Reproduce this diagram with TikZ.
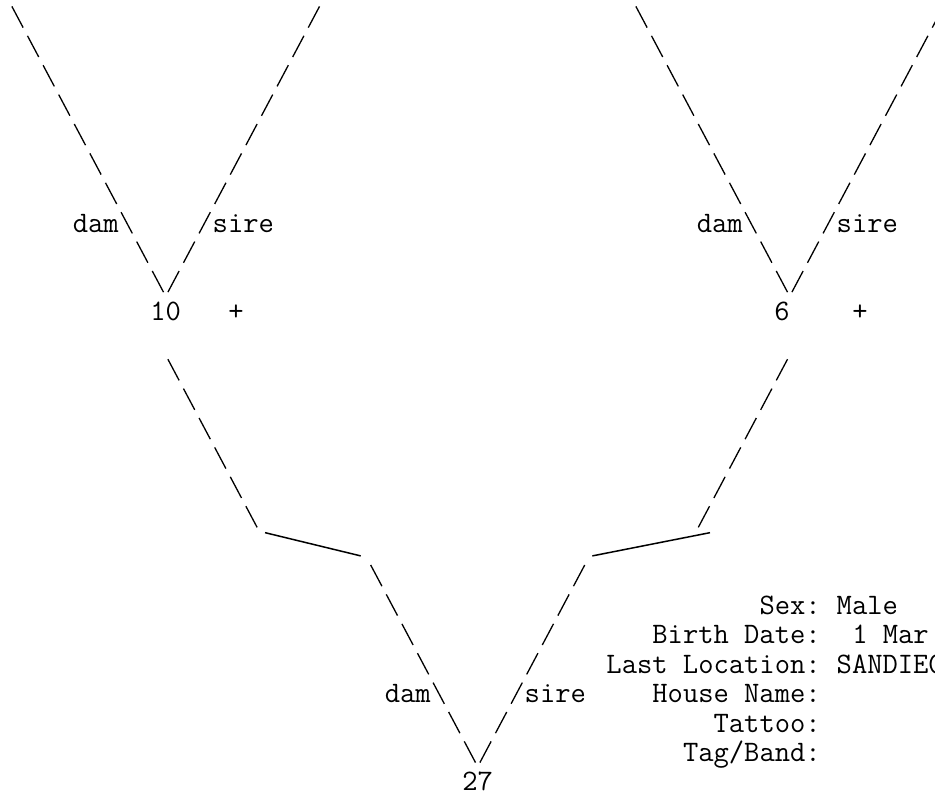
\documentclass[tikz,border=0pt]{standalone}
\usepackage{fontspec}

\begin{document}
\begin{tikzpicture}[x=15.6pt,y=-29.4pt,
  txt/.style={font=\fontsize{29.71}{30}\selectfont\ttfamily,inner sep=0pt,yshift=-9.5pt},
  link/.style={line width=1.3pt,dash pattern=on 23.96pt off 9.32pt},
  bar/.style={line width=1.5pt}]
\clip (-1.122,-0.578) rectangle (58.814,26.429);
% animals
\node[txt,anchor=base west] (n10) at (8.5,10) {10};
\node[txt,anchor=base west] (p10) at (13.5,10) {+};
\node[txt,anchor=base west] (n6) at (48.5,10) {6};
\node[txt,anchor=base west] (p6) at (53.5,10) {+};
\node[txt,anchor=base west] (n27) at (28.5,26) {27};
% link ends
\coordinate (t10d) at (-0.36,-0.36);
\coordinate (f10d) at (9.36,9.36);
\coordinate (t10s) at (19.36,-0.36);
\coordinate (f10s) at (9.64,9.36);
\coordinate (t6d) at (39.64,-0.36);
\coordinate (f6d) at (49.36,9.36);
\coordinate (t6s) at (59.36,-0.36);
\coordinate (f6s) at (49.64,9.36);
\coordinate (u10) at (9.64,11.64);
\coordinate (u6) at (49.36,11.64);
\coordinate (kd1) at (15.36,17.36);
\coordinate (kd2) at (15.87,17.54);
\coordinate (kd3) at (22,18.33);
\coordinate (kd4) at (22.64,18.64);
\coordinate (ks1) at (43.64,17.36);
\coordinate (ks2) at (44.39,17.54);
\coordinate (ks3) at (36.85,18.33);
\coordinate (ks4) at (36.36,18.64);
\coordinate (f27d) at (29.36,25.36);
\coordinate (f27s) at (29.64,25.36);
% parents of 10 and 6
\draw[link] (t10d)--(f10d);
\draw[link] (t10s)--(f10s);
\draw[link] (t6d)--(f6d);
\draw[link] (t6s)--(f6s);
% parents of 27
\draw[link] (u10)--(kd1);
\draw[bar] (kd2)--(kd3);
\draw[link] (kd4)--(f27d);
\draw[link] (u6)--(ks1);
\draw[bar] (ks2)--(ks3);
\draw[link] (ks4)--(f27s);
% dam/sire labels
\node[txt,anchor=base east] (d10) at (6.5,7) {dam};
\node[txt,anchor=base west] (s10) at (12.5,7) {sire};
\node[txt,anchor=base east] (d6) at (46.5,7) {dam};
\node[txt,anchor=base west] (s6) at (52.5,7) {sire};
\node[txt,anchor=base east] (d27) at (26.5,23) {dam};
\node[txt,anchor=base west] (s27) at (32.5,23) {sire};
% details of 27
\node[txt,anchor=base east] (sex) at (51.5,20) {Sex:};
\node[txt,anchor=base west] (sexv) at (52.5,20) {Male};
\node[txt,anchor=base east] (birth) at (51.5,21) {Birth Date:};
\node[txt,anchor=base west] (birthv) at (53.5,21) {1 Mar};
\node[txt,anchor=base east] (loc) at (51.5,22) {Last Location:};
\node[txt,anchor=base west] (locv) at (52.5,22) {SANDIEG};
\node[txt,anchor=base east] (house) at (51.5,23) {House Name:};
\node[txt,anchor=base east] (tattoo) at (51.5,24) {Tattoo:};
\node[txt,anchor=base east] (tag) at (51.5,25) {Tag/Band:};
\end{tikzpicture}
\end{document}
